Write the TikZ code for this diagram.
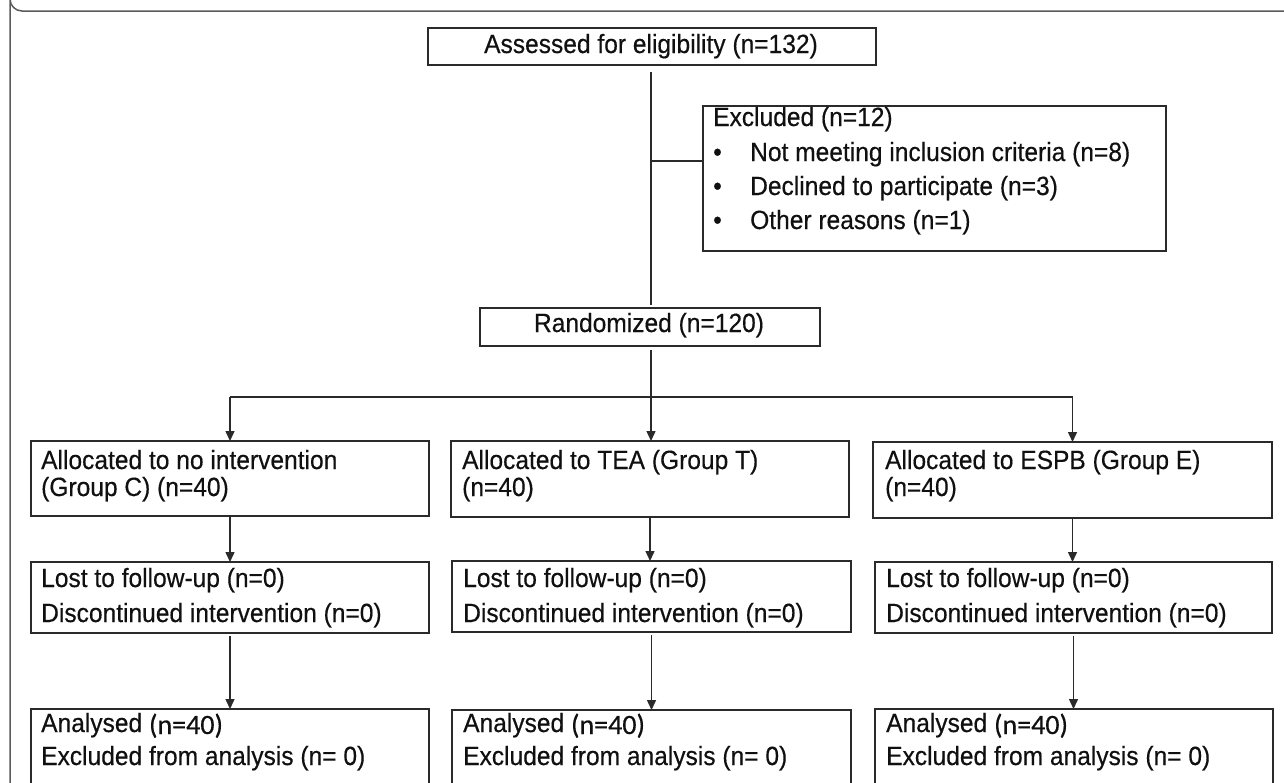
\documentclass[tikz,border=0pt]{standalone}
\usepackage{fontspec}
\setmainfont{Liberation Sans}[FakeStretch=0.93, FakeBold=0.4]
\newfontfamily\carlitofont{Carlito}[FakeBold=0.4]
\usetikzlibrary{arrows.meta}
\definecolor{linec}{HTML}{2A2A2A}
\definecolor{framec}{HTML}{5A5A5A}
\definecolor{txtc}{HTML}{101010}
\tikzset{
  boxnode/.style={draw=linec, line width=1.4pt, rectangle, anchor=north west, inner sep=0pt, outer sep=0pt},
  txt/.style={anchor=base west, inner sep=0pt, text=txtc, font=\fontsize{26.4}{28}\selectfont},
  ctxt/.style={anchor=base, inner sep=0pt, text=txtc, font=\fontsize{26.4}{28}\selectfont},
  conn/.style={draw=linec, line width=1.4pt},
  arr/.style={conn, -{Triangle[length=10pt,width=9pt]}}
}
\newcommand{\nforty}{{\carlitofont\fontsize{28}{30}\selectfont\raisebox{-2pt}{(n=40)}}}
\begin{document}
\begin{tikzpicture}[x=1pt,y=-1pt]
\useasboundingbox (0,0) rectangle (1284,782);
\fill[white] (0,0) rectangle (1284,782);
\clip (0,0) rectangle (1284,782);
% outer frame
\draw[framec, line width=1.5pt] (1290,11) -- (22,11) arc[start angle=90, end angle=180, radius=12] -- (10,790);
% boxes
\node[boxnode, minimum width=448pt, minimum height=37pt] (ass) at (428,28) {};
\node[ctxt] (asst) at (651,53) {Assessed for eligibility (n=132)};
\node[boxnode, minimum width=463pt, minimum height=145pt] (exc) at (703,106) {};
\node[txt] (exc1) at (713,126) {Excluded (n=12)};
\node[txt] (exb1) at (713,161) {\textbullet};
\node[txt] (exc2) at (750,161) {Not meeting inclusion criteria (n=8)};
\node[txt] (exb2) at (713,195) {\textbullet};
\node[txt] (exc3) at (750,195) {Declined to participate (n=3)};
\node[txt] (exb3) at (713,229) {\textbullet};
\node[txt] (exc4) at (750,229) {Other reasons (n=1)};
\node[boxnode, minimum width=340pt, minimum height=38pt] (ran) at (480,308) {};
\node[ctxt] (rant) at (649,332) {Randomized (n=120)};
% row 1
\node[boxnode, minimum width=398pt, minimum height=75pt] (a1) at (31,441) {};
\node[txt] (a1t1) at (41,469) {Allocated to no intervention};
\node[txt] (a1t2) at (41,496) {(Group C) (n=40)};
\node[boxnode, minimum width=398pt, minimum height=76pt] (a2) at (451,441) {};
\node[txt] (a2t1) at (462,469) {Allocated to TEA (Group T)};
\node[txt] (a2t2) at (462,496) {(n=40)};
\node[boxnode, minimum width=399pt, minimum height=76pt] (a3) at (873,442) {};
\node[txt] (a3t1) at (885,469) {Allocated to ESPB (Group E)};
\node[txt] (a3t2) at (885,496) {(n=40)};
% row 2
\node[boxnode, minimum width=398pt, minimum height=71pt] (l1) at (31,562) {};
\node[txt] (l1t1) at (41,587) {Lost to follow-up (n=0)};
\node[txt] (l1t2) at (41,622) {Discontinued intervention (n=0)};
\node[boxnode, minimum width=399pt, minimum height=71pt] (l2) at (452,561) {};
\node[txt] (l2t1) at (463,587) {Lost to follow-up (n=0)};
\node[txt] (l2t2) at (463,622) {Discontinued intervention (n=0)};
\node[boxnode, minimum width=397pt, minimum height=71pt] (l3) at (875,562) {};
\node[txt] (l3t1) at (886,587) {Lost to follow-up (n=0)};
\node[txt] (l3t2) at (886,622) {Discontinued intervention (n=0)};
% row 3
\node[boxnode, minimum width=398pt, minimum height=120pt] (n1) at (31,709) {};
\node[txt] (n1t1) at (41,732) {Analysed \nforty};
\node[txt] (n1t2) at (41,765) {Excluded from analysis (n= 0)};
\node[boxnode, minimum width=399pt, minimum height=120pt] (n2) at (452,710) {};
\node[txt] (n2t1) at (463,732) {Analysed \nforty};
\node[txt] (n2t2) at (463,765) {Excluded from analysis (n= 0)};
\node[boxnode, minimum width=398pt, minimum height=120pt] (n3) at (875,709) {};
\node[txt] (n3t1) at (886,732) {Analysed \nforty};
\node[txt] (n3t2) at (886,765) {Excluded from analysis (n= 0)};
% connectors
\coordinate (br) at (651,161);
\coordinate (split) at (651,397);
\draw[conn, shorten <=7pt, shorten >=3pt] (ass.south -| br) -- (ran.north -| br);
\draw[conn] (br) -- (br -| exc.west);
\draw[conn, shorten <=4pt] (ran.south -| split) -- (split);
\draw[conn] (a1.north |- split) -- (a3.north |- split);
\draw[arr] (a1.north |- split) -- (a1.north);
\draw[arr] (split) -- (split |- a2.north);
\draw[arr] (a3.north |- split) -- (a3.north);
\draw[arr] (a1.south) -- (l1.north -| a1.south);
\draw[arr] (a2.south) -- (l2.north -| a2.south);
\draw[arr] (a3.south) -- (l3.north -| a3.south);
\draw[arr, shorten <=3pt] (l1.south) -- (n1.north -| l1.south);
\draw[arr, shorten <=3pt] (l2.south) -- (n2.north -| l2.south);
\draw[arr, shorten <=3pt] (l3.south) -- (n3.north -| l3.south);
\end{tikzpicture}
\end{document}
